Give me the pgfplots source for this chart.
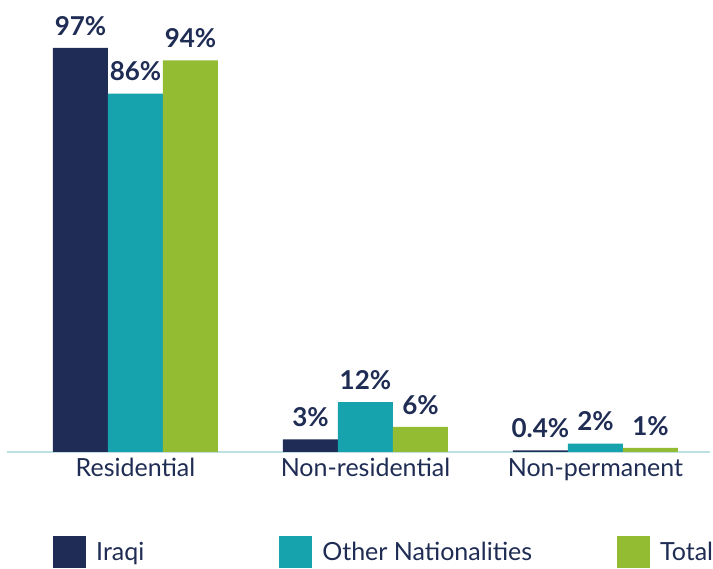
\documentclass[border=0pt]{standalone}
\usepackage{pgfplots}
\pgfplotsset{compat=1.18}
\usepackage{fontspec}
\setmainfont{Lato}
\definecolor{cnavy}{HTML}{1F2C55}
\definecolor{cteal}{HTML}{17A3AE}
\definecolor{cgreen}{HTML}{93BC32}
\definecolor{ctext}{HTML}{1F2C54}
\definecolor{caxis}{HTML}{BDE0E2}
\pgfplotstableread{
x iraqi other total
0 97 86 94
1 3 12 6
2 0.4 2 1
}\datatable
\begin{document}
\begin{tikzpicture}
\useasboundingbox (0pt,0pt) rectangle (713pt,569pt);
\begin{axis}[
  at={(7pt,117pt)}, anchor=south west,
  scale only axis, width=703pt, height=452pt,
  xmin=-0.5587, xmax=2.498, ymin=0, ymax=108.5,
  axis x line*=bottom, axis y line=none,
  axis line style={draw=caxis, line width=1.5pt, -},
  ybar=0pt, bar width=55pt,
  xtick={0,1,2}, xticklabels={Residential,Non-residential,Non-permanent},
  major tick length=0pt,
  xticklabel style={font=\fontsize{25}{30}\selectfont, text=ctext, yshift=-3pt},
  /pgf/number format/assume math mode=true,
  nodes near coords={\pgfmathprintnumber{\pgfplotspointmeta}\%},
  every node near coord/.append style={font=\bfseries\fontsize{26}{31}\selectfont, text=ctext, anchor=south, yshift=9pt},
  legend columns=3,
  legend style={at={(0.0654,-0.221)}, anchor=west, draw=none, inner sep=0pt,
    font=\fontsize{25}{30}\selectfont, text=ctext,
    /tikz/column 2/.style={column sep=133pt},
    /tikz/column 4/.style={column sep=83pt},
    /tikz/column 1/.style={column sep=8pt},
    /tikz/column 3/.style={column sep=8pt},
    /tikz/column 5/.style={column sep=8pt},
  },
  legend image code/.code={\draw[#1,/tikz/.cd,draw=none] (0pt,-16pt) rectangle (33pt,16pt);},
]
\addplot[fill=cnavy, draw=none] table[x=x,y=iraqi]{\datatable};
\addplot[fill=cteal, draw=none] table[x=x,y=other]{\datatable};
\addplot[fill=cgreen, draw=none] table[x=x,y=total]{\datatable};
\legend{Iraqi, Other Nationalities, Total}
\end{axis}
\end{tikzpicture}
\end{document}
